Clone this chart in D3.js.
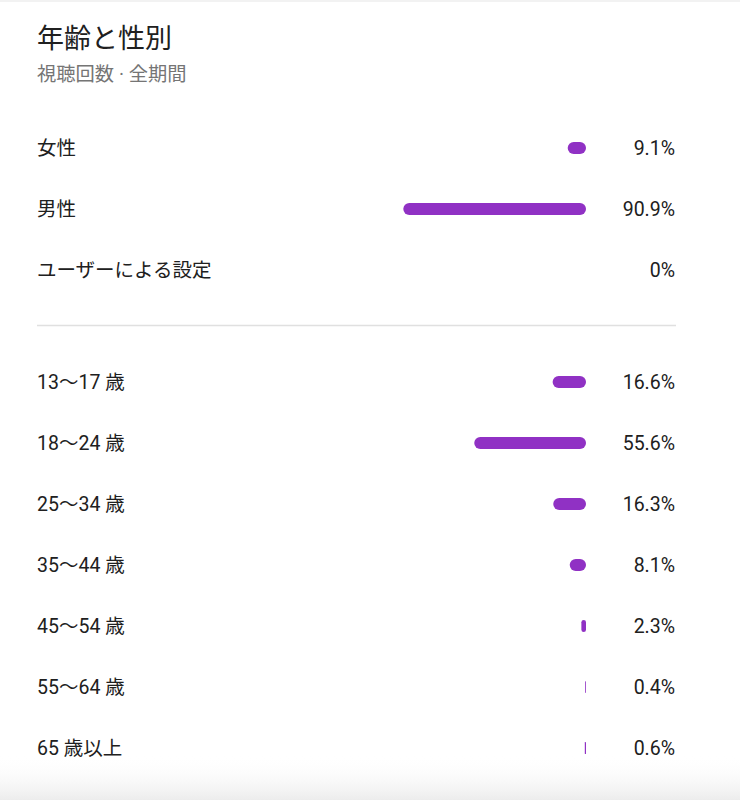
<!DOCTYPE html>
<html><head><meta charset="utf-8">
<script src="https://cdn.jsdelivr.net/npm/d3@7"></script>
<style>
html,body{margin:0;padding:0;background:#fff;}
svg{display:block;font-family:Roboto,"Noto Sans CJK JP","Noto Sans",sans-serif;}
</style></head>
<body>
<script>
const title = "年齢と性別";
const subtitle = "視聴回数 · 全期間";
const genderLabels = ["女性", "男性", "ユーザーによる設定"];
const genderValues = [9.1, 90.9, 0];
const genderText = ["9.1%", "90.9%", "0%"];
const ageLabels = ["13〜17 歳", "18〜24 歳", "25〜34 歳", "35〜44 歳", "45〜54 歳", "55〜64 歳", "65 歳以上"];
const ageValues = [16.6, 55.6, 16.3, 8.1, 2.3, 0.4, 0.6];
const ageText = ["16.6%", "55.6%", "16.3%", "8.1%", "2.3%", "0.4%", "0.6%"];

const W = 740, H = 800;
const svg = d3.select("body").append("svg").attr("width", W).attr("height", H);

const defs = svg.append("defs");
const g1 = defs.append("linearGradient").attr("id","fade").attr("x1",0).attr("x2",0).attr("y1",0).attr("y2",1);
g1.append("stop").attr("offset","0%").attr("stop-color","#ffffff").attr("stop-opacity",0);
g1.append("stop").attr("offset","100%").attr("stop-color","#ececec").attr("stop-opacity",1);

svg.append("rect").attr("x",0).attr("y",0).attr("width",W).attr("height",2).attr("fill","#f2f2f2");

svg.append("text").attr("x",37).attr("y",48).attr("font-size",27).attr("fill","#202020").text(title);
svg.append("text").attr("x",37).attr("y",81).attr("font-size",19.3).attr("fill","#757575").text(subtitle);

const barRight = 586;
const x = d3.scaleLinear().domain([0, 100]).range([0, 201]);
const barH = 12;
const color = "#9031c4";
const fs = 19.5;

function drawRows(labels, values, texts, y) {
  const grp = svg.append("g");
  labels.forEach((lab, i) => {
    const cy = y(i);
    grp.append("text").attr("x",37).attr("y",cy).attr("dy","0.36em")
      .attr("font-size",fs).attr("fill","#202020").text(lab);
    const w = x(values[i]);
    if (w > 0) {
      grp.append("rect").attr("x", barRight - w).attr("y", cy - barH/2)
        .attr("width", w).attr("height", barH)
        .attr("rx", Math.min(6, w/2)).attr("ry", Math.min(6, w/2))
        .attr("fill", color);
    }
    grp.append("text").attr("x",675).attr("y",cy).attr("dy","0.36em")
      .attr("text-anchor","end").attr("font-size",fs).attr("fill","#202020").text(texts[i]);
  });
}

const yG = d3.scalePoint().domain(d3.range(genderLabels.length)).range([148, 270]);
drawRows(genderLabels, genderValues, genderText, yG);

svg.append("line").attr("x1",37).attr("x2",676).attr("y1",325.5).attr("y2",325.5)
  .attr("stroke","#e0e0e0").attr("stroke-width",1.5);

const yA = d3.scalePoint().domain(d3.range(ageLabels.length)).range([382, 748]);
drawRows(ageLabels, ageValues, ageText, yA);

svg.append("rect").attr("x",0).attr("y",755).attr("width",W).attr("height",45).attr("fill","url(#fade)");
</script>
</body></html>
